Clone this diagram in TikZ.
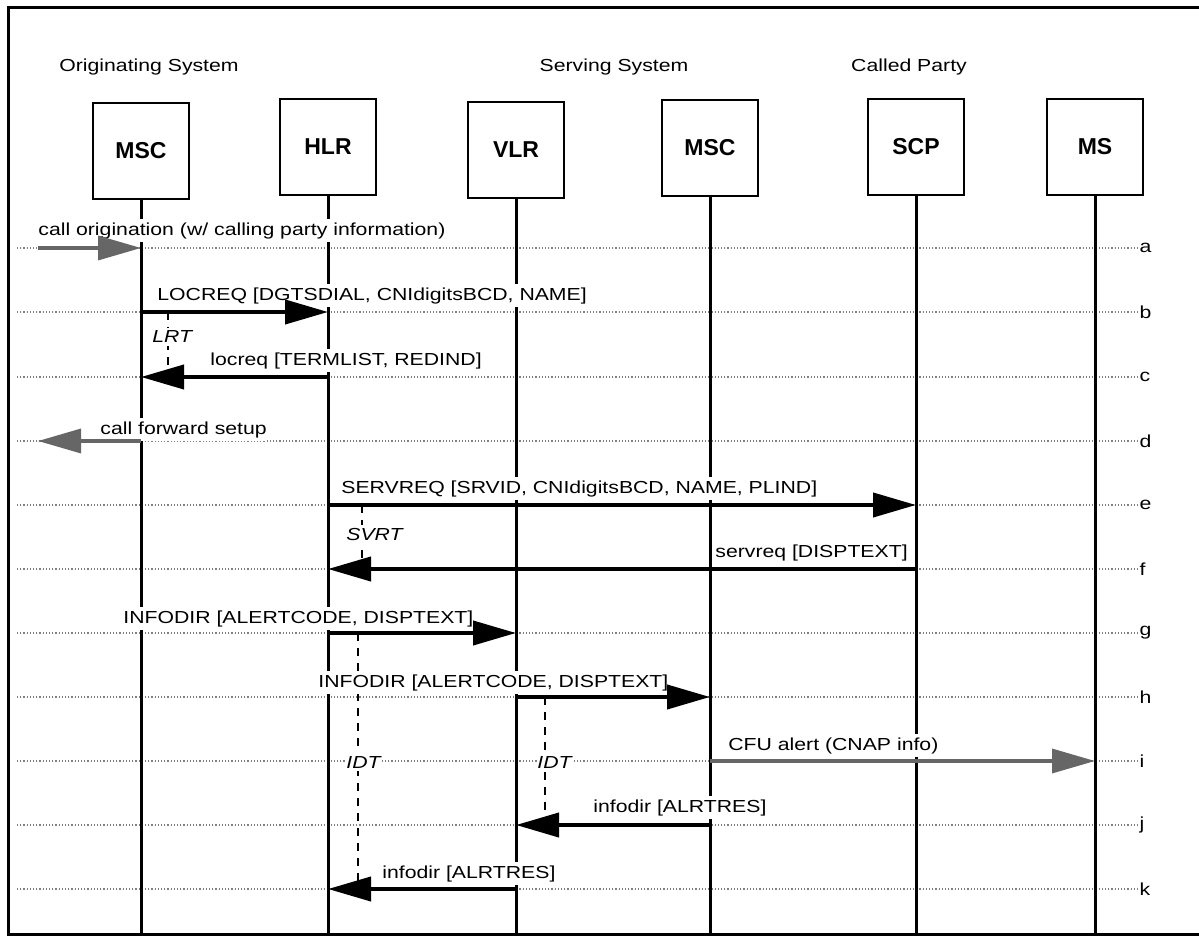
\documentclass[tikz,border=0pt]{standalone}
\usepackage{fontspec}
\setmainfont{Liberation Sans}[FakeStretch=1.22]
\newfontfamily\boxfont{Liberation Sans}
\usetikzlibrary{arrows.meta}
\begin{document}
\begin{tikzpicture}[x=0.5pt,y=-0.5pt,
  every node/.style={font=\fontsize{8.7}{10}\selectfont},
  entity/.style={draw,line width=1.2pt,minimum width=48pt,minimum height=48pt,inner sep=0pt,font=\boxfont\bfseries\fontsize{11.5}{13}\selectfont},
  life/.style={line width=1.5pt},
  msg/.style={line width=2pt,-{Triangle[length=21.5pt,width=12pt]}},
  ext/.style={msg,line width=1.7pt,draw=black!60,fill=black!60},
  lbl/.style={fill=white,inner xsep=0pt,inner ysep=1.5pt,anchor=base west},
  timer/.style={line width=0.7pt,dash pattern=on 4pt off 3.5pt},
  row/.style={draw=black!50,line width=0.6pt,densely dotted}]
\useasboundingbox (0,0) rectangle (1199,936);
\draw[line width=1.5pt] (1210,8) -- (8,8) -- (8,934) -- (1210,934);
\coordinate (bot) at (0,934);
\node[anchor=base] (tOrig) at (149,72) {Originating System};
\node[anchor=base] (tServ) at (614,72) {Serving System};
\node[anchor=base] (tCalled) at (909,72) {Called Party};
\node[entity] (msc1) at (141,151) {MSC};
\node[entity] (hlr) at (328,147) {HLR};
\node[entity] (vlr) at (516,150) {VLR};
\node[entity] (msc2) at (710,148) {MSC};
\node[entity] (scp) at (916,147) {SCP};
\node[entity] (ms) at (1095,147) {MS};
\foreach \r/\y in {a/248,b/312,c/377,d/441,e/505,f/569,g/633,h/697,i/761,j/825,k/889} {
  \coordinate (r\r) at (0,\y);
  \draw[row] (17,\y) -- (1138,\y) node[anchor=west,inner sep=0.5pt] (t\r) {\r};
}
\foreach \n in {msc1,hlr,vlr,msc2,scp,ms}
  \draw[life] (\n.south) -- (\n |- bot);
\coordinate (lrt) at (168,0);
\coordinate (svrt) at (362,0);
\coordinate (idtA) at (358,0);
\coordinate (idtB) at (545,0);
\draw[timer] (lrt |- rb) -- (lrt |- rc);
\draw[timer] (svrt |- re) -- (svrt |- rf);
\draw[timer] (idtA |- rg) -- (idtA |- rk);
\draw[timer] (idtB |- rh) -- (idtB |- rj);
\node[lbl] (la) at (38,235) {call origination (w/ calling party information)};
\node[lbl] (lb) at (157,300) {LOCREQ [DGTSDIAL, CNIdigitsBCD, NAME]};
\node[lbl,font=\fontsize{8.7}{10}\selectfont\itshape] (lLRT) at (152,343) {LRT};
\node[lbl] (lc) at (210,365) {locreq [TERMLIST, REDIND]};
\node[lbl] (ld) at (100,434) {call forward setup};
\node[lbl] (le) at (341,493) {SERVREQ [SRVID, CNIdigitsBCD, NAME, PLIND]};
\node[lbl,font=\fontsize{8.7}{10}\selectfont\itshape] (lSVRT) at (346,540) {SVRT};
\node[lbl] (lf) at (715,557) {servreq [DISPTEXT]};
\node[lbl] (lg) at (123,623) {INFODIR [ALERTCODE, DISPTEXT]};
\node[lbl] (lh) at (318,687) {INFODIR [ALERTCODE, DISPTEXT]};
\node[lbl] (li) at (728,750) {CFU alert (CNAP info)};
\node[lbl,font=\fontsize{8.7}{10}\selectfont\itshape] (lIDTA) at (346,768) {IDT};
\node[lbl,font=\fontsize{8.7}{10}\selectfont\itshape] (lIDTB) at (537,768) {IDT};
\node[lbl] (lj) at (593,812) {infodir [ALRTRES]};
\node[lbl] (lk) at (382,878) {infodir [ALRTRES]};
\coordinate (orig) at (38,248);
\coordinate (fwd) at (38,441);
\draw[ext] (orig) -- (msc1 |- ra);
\draw[msg] (msc1 |- rb) -- (hlr |- rb);
\draw[msg] (hlr |- rc) -- (msc1 |- rc);
\draw[ext] (msc1 |- rd) -- (fwd);
\draw[msg] (hlr |- re) -- (scp |- re);
\draw[msg] (scp |- rf) -- (hlr |- rf);
\draw[msg] (hlr |- rg) -- (vlr |- rg);
\draw[msg] (vlr |- rh) -- (msc2 |- rh);
\draw[ext] (msc2 |- ri) -- (ms |- ri);
\draw[msg] (msc2 |- rj) -- (vlr |- rj);
\draw[msg] (vlr |- rk) -- (hlr |- rk);
\end{tikzpicture}
\end{document}
